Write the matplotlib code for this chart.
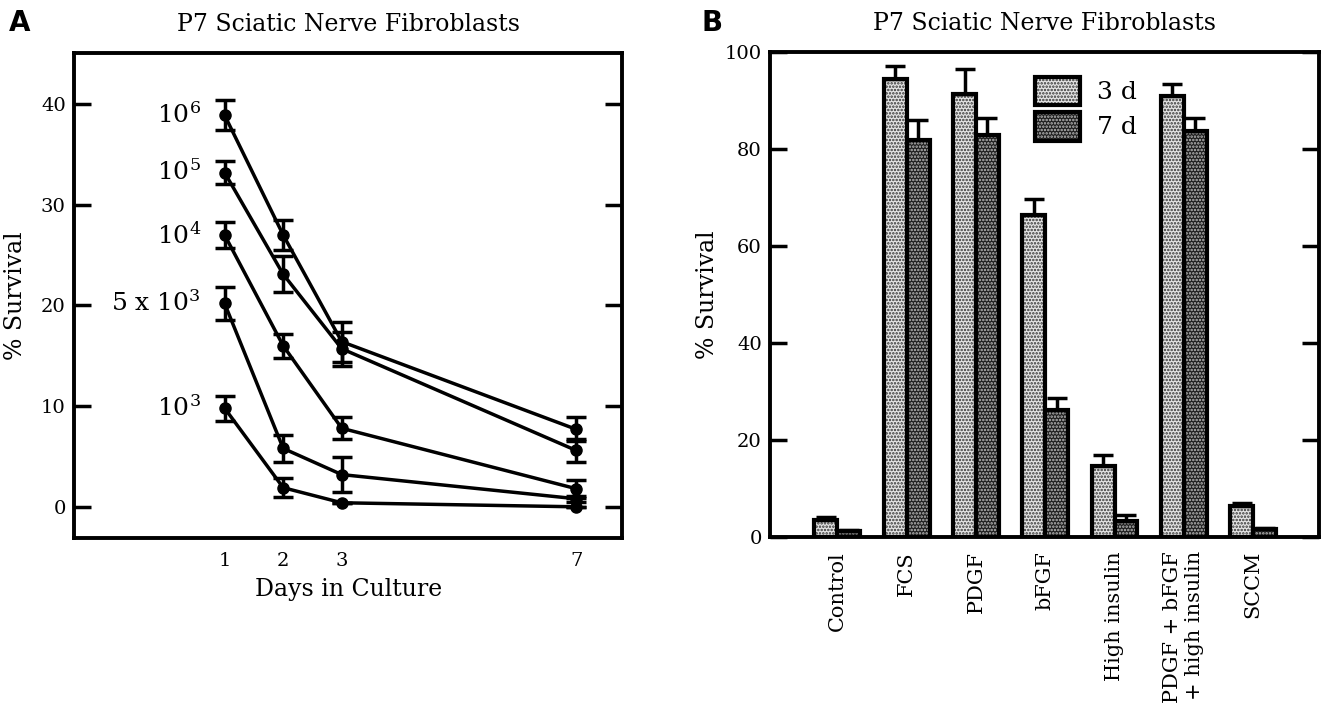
import numpy as np
import matplotlib.pyplot as plt
from matplotlib.legend_handler import HandlerTuple

plt.rcParams['font.family'] = 'DejaVu Serif'
plt.rcParams['mathtext.fontset'] = 'dejavuserif'
plt.rcParams['hatch.linewidth'] = 1.2

# Panel A: survival over time for different plating densities
days = [1, 2, 3, 7]
density_labels = ['10$^{6}$', '10$^{5}$', '10$^{4}$', '5 x 10$^{3}$', '10$^{3}$']
surv_1e6 = [38.9, 27.0, 16.4, 7.7]
surv_1e5 = [33.2, 23.1, 15.7, 5.6]
surv_1e4 = [27.0, 16.0, 7.8, 1.8]
surv_5e3 = [20.2, 5.8, 3.2, 0.8]
surv_1e3 = [9.8, 1.9, 0.4, 0.0]
err_1e6 = [1.5, 1.5, 2.0, 1.2]
err_1e5 = [1.1, 1.8, 1.7, 1.1]
err_1e4 = [1.3, 1.2, 1.1, 0.9]
err_5e3 = [1.6, 1.3, 1.7, 0.3]
err_1e3 = [1.25, 0.95, 0.0, 0.0]

# Panel B: survival in different factors after 3 and 7 days
conditions = ['Control', 'FCS', 'PDGF', 'bFGF', 'High insulin',
              'PDGF + bFGF\n+ high insulin', 'SCCM']
surv_3d = [3.5, 94.4, 91.2, 66.4, 14.6, 90.8, 6.3]
surv_7d = [1.2, 81.8, 82.9, 26.2, 3.2, 83.6, 1.6]
err_3d = [0.6, 2.7, 5.2, 3.3, 2.4, 2.5, 0.8]
err_7d = [0.2, 4.1, 3.5, 2.4, 1.4, 2.8, 0.2]

fig = plt.figure(figsize=(13.22, 7.11), dpi=100)
axA = fig.add_axes([0.0560, 0.2433, 0.4148, 0.6825])
axB = fig.add_axes([0.5825, 0.2447, 0.4153, 0.6825])

# ---- panel A ----
series = [surv_1e6, surv_1e5, surv_1e4, surv_5e3, surv_1e3]
errs = [err_1e6, err_1e5, err_1e4, err_5e3, err_1e3]
for y, e, lab in zip(series, errs, density_labels):
    axA.errorbar(days, y, yerr=e, color='black', lw=2.5, marker='o', ms=8,
                 capsize=7, capthick=2.5, elinewidth=2.5)
    axA.text(0.6, y[0], lab, ha='right', va='center', fontsize=18)

axA.set_xlim(-1.57, 7.79)
axA.set_ylim(-3.1, 45.1)
axA.set_xticks(days)
axA.set_yticks([0, 10, 20, 30, 40])
axA.tick_params(axis='x', length=0, pad=10, labelsize=14)
axA.tick_params(axis='y', direction='in', length=12, width=2.5,
                right=True, labelsize=14, pad=6)
axA.set_xlabel('Days in Culture', fontsize=17, labelpad=6)
axA.set_ylabel('% Survival', fontsize=17, labelpad=10)
axA.set_title('P7 Sciatic Nerve Fibroblasts', fontsize=17, pad=16)

# ---- panel B ----
x = np.arange(len(conditions))
w = 0.33
h3 = axB.bar(x - w / 2, surv_3d, w, color='#e4e4e4', edgecolor='#333333',
             hatch='.....', lw=0)
o3 = axB.bar(x - w / 2, surv_3d, w, color='none', edgecolor='black', lw=3)
h7 = axB.bar(x + w / 2, surv_7d, w, color='#1e1e1e', edgecolor='#bdbdbd',
             hatch='.....', lw=0)
o7 = axB.bar(x + w / 2, surv_7d, w, color='none', edgecolor='black', lw=3)
axB.errorbar(x - w / 2, surv_3d, yerr=[np.zeros(len(x)), err_3d], fmt='none',
             ecolor='black', elinewidth=2.5, capsize=7, capthick=2.5)
axB.errorbar(x + w / 2, surv_7d, yerr=[np.zeros(len(x)), err_7d], fmt='none',
             ecolor='black', elinewidth=2.5, capsize=7, capthick=2.5)

axB.set_xlim(-0.97, 6.95)
axB.set_ylim(0, 100)
axB.set_yticks([0, 20, 40, 60, 80, 100])
axB.set_xticks(x)
axB.set_xticklabels(conditions, rotation=90, fontsize=15, va='top',
                    ha='center', multialignment='right')
axB.tick_params(axis='x', length=0, pad=10)
axB.tick_params(axis='y', direction='in', length=12, width=2.5,
                right=True, labelsize=14, pad=6)
axB.set_ylabel('% Survival', fontsize=17, labelpad=4)
axB.set_title('P7 Sciatic Nerve Fibroblasts', fontsize=17, pad=16)
axB.legend([(h3, o3), (h7, o7)], ['3 d', '7 d'],
           handler_map={tuple: HandlerTuple(ndivide=1)},
           loc='upper left', bbox_to_anchor=(0.45, 0.985), frameon=False,
           fontsize=18, handlelength=1.8, handleheight=1.4,
           labelspacing=0.25, handletextpad=0.7, borderpad=0.2)

for ax in (axA, axB):
    for s in ax.spines.values():
        s.set_linewidth(2.8)

fig.text(0.007, 0.968, 'A', fontsize=20, fontweight='bold',
         family='DejaVu Sans', va='center')
fig.text(0.531, 0.968, 'B', fontsize=20, fontweight='bold',
         family='DejaVu Sans', va='center')

fig.savefig('out.png', dpi=100)
